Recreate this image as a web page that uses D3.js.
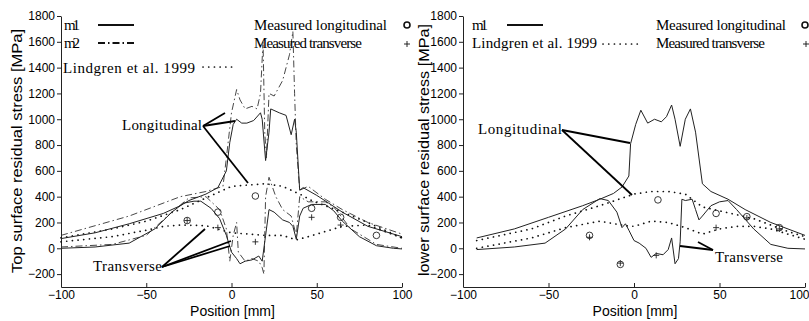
<!DOCTYPE html>
<html>
<head>
<meta charset="utf-8">
<script src="https://cdn.jsdelivr.net/npm/d3@7"></script>
<style>
  body { margin: 0; background: #fff; }
  svg { display: block; }
  .tick text { font-family: "Liberation Sans", Arial, sans-serif; font-size: 12px; fill: #000; }
  .axis path, .axis line { stroke: #222; stroke-width: 1; }
  .alabel { font-family: "Liberation Sans", Arial, sans-serif; font-size: 14px; fill: #000; }
  .serif { font-family: "Liberation Serif", "Times New Roman", serif; font-size: 15px; fill: #000; }
</style>
</head>
<body>
<div id="chart"></div>
<script>
// ---- data ----
const xTicks = [-100, -50, 0, 50, 100];
const yTicks = [-200, 0, 200, 400, 600, 800, 1000, 1200, 1400, 1600, 1800];

// top surface (left panel)
const topM1Long = [[-100,75],[-80,120],[-60,190],[-40,270],[-30,330],[-25,370],[-15,420],[-8,470],[-3,600],[-1,820],[1,960],[3,1000],[6,970],[9,970],[13,990],[17,1050],[18,1000],[20,680],[22,900],[23,1080],[28,1050],[32,1030],[35,880],[37,1000],[38,900],[40,450],[42,470],[50,410],[57,350],[65,280],[80,170],[100,90]];
const topM1Trans = [[-100,0],[-80,10],[-60,40],[-45,150],[-35,280],[-28,350],[-22,365],[-18,365],[-12,310],[-7,230],[-3,100],[0,-30],[3,-80],[5,-120],[8,-100],[12,-90],[16,-60],[18,-100],[20,100],[22,300],[25,280],[30,220],[34,200],[36,170],[38,70],[40,250],[42,310],[47,340],[55,340],[60,290],[65,210],[75,90],[85,20],[95,0],[100,-5]];
const topM2Long = [[-100,100],[-60,250],[-30,400],[-15,440],[-5,480],[-3,700],[0,1050],[3,1230],[5,1150],[8,1080],[12,1100],[15,1080],[17,1200],[18.5,1600],[19.5,900],[20.5,700],[22,1200],[25,1180],[30,1300],[34,1500],[36,1680],[37,1200],[38,800],[40,450],[45,480],[55,380],[65,300],[80,200],[100,110]];
const topM2Trans = [[-100,10],[-70,30],[-50,100],[-35,280],[-25,390],[-15,400],[-7,300],[-3,150],[-1,-100],[1,100],[3,200],[4,-30],[8,-100],[12,-80],[16,-100],[18,-150],[19,-200],[20,400],[22,550],[26,400],[30,300],[35,250],[38,100],[40,400],[45,360],[55,360],[60,320],[70,150],[85,30],[100,0]];
const topLindLong = [[-100,80],[-70,150],[-50,210],[-30,300],[-15,390],[-5,450],[0,480],[10,490],[20,500],[30,480],[40,420],[47,370],[55,330],[65,280],[80,200],[100,80]];
const topLindTrans = [[-100,50],[-70,90],[-50,140],[-40,170],[-30,180],[-15,175],[0,120],[10,110],[20,100],[30,100],[38,65],[45,90],[55,130],[65,170],[80,180],[100,80]];
const topMeasLong = [[-26,215],[-8,280],[14,405],[47,310],[64,240],[85,100]];
const topMeasTrans = [[-26,215],[-8,160],[14,50],[47,240],[64,180]];

// lower surface (right panel)
const lowM1Long = [[-92,80],[-70,150],[-50,240],[-30,330],[-20,380],[-12,425],[-7,475],[-3,560],[-2,810],[1,960],[4,1070],[8,970],[12,1000],[16,980],[19,1020],[22,1110],[24,1000],[27,790],[30,1000],[33,1080],[36,900],[40,500],[45,440],[55,380],[65,300],[80,200],[100,100]];
const lowM1Trans = [[-92,-10],[-70,10],[-52,40],[-40,150],[-30,300],[-20,385],[-15,370],[-10,280],[-7,160],[-5,190],[-3,140],[0,60],[3,40],[7,0],[10,-70],[13,-40],[17,-50],[20,-10],[22,80],[24,-120],[26,-80],[27,50],[28,380],[30,370],[34,380],[36,300],[38,220],[40,250],[45,330],[50,360],[55,370],[60,300],[70,150],[80,30],[90,0],[100,-5]];
const lowLindLong = [[-92,60],[-60,150],[-40,250],[-20,330],[0,420],[10,440],[20,440],[30,420],[40,320],[50,290],[60,260],[70,230],[80,180],[90,130],[100,90]];
const lowLindTrans = [[-92,0],[-60,80],[-40,160],[-20,210],[-5,175],[0,170],[10,210],[20,200],[30,160],[40,110],[50,150],[60,170],[70,170],[80,150],[100,70]];
const lowMeasLong = [[-26,100],[-8,-125],[14,375],[48,270],[66,245],[85,160]];
const lowMeasTrans = [[-26,85],[-8,-115],[13,-55],[48,160],[66,235],[85,150]];

// ---- layout ----
const W = 809, H = 321;
const svg = d3.select('#chart').append('svg').attr('width', W).attr('height', H);

const styles = {
  solid:   { stroke: '#222', width: 1, dash: null },
  dashdot: { stroke: '#333', width: 0.9, dash: '7,3,1.5,3' },
  dotted:  { stroke: '#111', width: 1.7, dash: '0.1,5.6' }
};

function drawPanel(cfg) {
  const x = d3.scaleLinear().domain([-100, 100]).range([cfg.x0, cfg.x1]);
  const y = d3.scaleLinear().domain([-300, 1800]).range([287, 16]);
  const g = svg.append('g');

  g.append('g').attr('class', 'axis')
    .attr('transform', `translate(0,${y(-300)})`)
    .call(d3.axisBottom(x).tickValues(xTicks).tickFormat(d3.format('d'))
      .tickSize(-4).tickPadding(3).tickSizeOuter(0))
    .call(a => a.selectAll('.tick text').attr('dy', '0.71em'))
    .call(a => a.selectAll('.tick text').filter(d => d === 100 && cfg.x1 > 800).attr('text-anchor', 'end').attr('dx', 4));

  g.append('g').attr('class', 'axis')
    .attr('transform', `translate(${x(-100)},0)`)
    .call(d3.axisLeft(y).tickValues(yTicks).tickFormat(d3.format('d'))
      .tickSize(4).tickPadding(2).tickSizeOuter(0));

  const line = d3.line().x(d => x(d[0])).y(d => y(d[1]));
  cfg.series.forEach(s => {
    const st = styles[s.style];
    g.append('path').datum(s.data)
      .attr('d', line)
      .attr('fill', 'none')
      .attr('stroke', st.stroke)
      .attr('stroke-width', st.width)
      .attr('stroke-dasharray', st.dash)
      .attr('stroke-linecap', s.style === 'dotted' ? 'round' : 'butt');
  });

  g.selectAll('.mc').data(cfg.measLong).enter().append('circle')
    .attr('cx', d => x(d[0])).attr('cy', d => y(d[1])).attr('r', 3.3)
    .attr('fill', 'none').attr('stroke', '#222').attr('stroke-width', 0.9);
  g.selectAll('.mp').data(cfg.measTrans).enter().append('path')
    .attr('d', d => `M${x(d[0]) - 3},${y(d[1])}h6M${x(d[0])},${y(d[1]) - 3}v6`)
    .attr('stroke', '#222').attr('stroke-width', 0.9);

  // axis labels
  g.append('text').attr('class', 'alabel')
    .attr('x', (cfg.x0 + cfg.x1) / 2 + 1).attr('y', 316)
    .attr('text-anchor', 'middle').text('Position [mm]');
  g.append('text').attr('class', 'alabel')
    .attr('transform', `translate(${cfg.ylx},${cfg.yly}) rotate(-90)`)
    .attr('text-anchor', 'middle')
    .attr('textLength', cfg.ylw).attr('lengthAdjust', 'spacingAndGlyphs')
    .text(cfg.ylabel);

  // legend
  cfg.legend.forEach(l => {
    g.append('text').attr('class', 'serif').attr('x', l.tx).attr('y', l.ty)
      .attr('textLength', l.tw).attr('lengthAdjust', 'spacing').text(l.label);
    if (l.style) {
      const st = styles[l.style];
      g.append('line').attr('x1', l.sx0).attr('x2', l.sx1).attr('y1', l.sy).attr('y2', l.sy)
        .attr('stroke', '#111').attr('stroke-width', l.style === 'dotted' ? 1.7 : 2)
        .attr('stroke-dasharray', st.dash).attr('stroke-linecap', l.style === 'dotted' ? 'round' : 'butt');
    }
    if (l.marker === 'o') {
      g.append('circle').attr('cx', l.sx0).attr('cy', l.sy).attr('r', 3)
        .attr('fill', 'none').attr('stroke', '#111').attr('stroke-width', 1.6);
    }
    if (l.marker === '+') {
      g.append('path').attr('d', `M${l.sx0 - 3},${l.sy}h6M${l.sx0},${l.sy - 3}v6`)
        .attr('stroke', '#111').attr('stroke-width', 0.9);
    }
  });

  // annotations
  cfg.notes.forEach(n => {
    g.append('text').attr('class', 'serif').attr('x', n.tx).attr('y', n.ty)
      .attr('textLength', n.tw).attr('lengthAdjust', 'spacing').text(n.label);
    n.lines.forEach(p => {
      g.append('line').attr('x1', p[0]).attr('y1', p[1]).attr('x2', p[2]).attr('y2', p[3])
        .attr('stroke', '#000').attr('stroke-width', 1.8);
    });
  });
}

drawPanel({
  x0: 61, x1: 402, ylx: 22, yly: 151, ylw: 244,
  ylabel: 'Top surface residual stress [MPa]',
  series: [
    { data: topLindLong, style: 'dotted' }, { data: topLindTrans, style: 'dotted' },
    { data: topM2Long, style: 'dashdot' }, { data: topM2Trans, style: 'dashdot' },
    { data: topM1Long, style: 'solid' }, { data: topM1Trans, style: 'solid' }
  ],
  measLong: topMeasLong, measTrans: topMeasTrans,
  legend: [
    { label: 'm1', tx: 64, ty: 30, tw: 16, style: 'solid', sx0: 98, sx1: 134, sy: 25 },
    { label: 'm2', tx: 64, ty: 48, tw: 16, style: 'dashdot', sx0: 98, sx1: 134, sy: 43 },
    { label: 'Lindgren et al. 1999', tx: 63, ty: 73, tw: 132, style: 'dotted', sx0: 203, sx1: 234, sy: 67 },
    { label: 'Measured longitudinal', tx: 254, ty: 30, tw: 133, marker: 'o', sx0: 407, sy: 25 },
    { label: 'Measured transverse', tx: 254, ty: 48, tw: 108, marker: '+', sx0: 407, sy: 44 }
  ],
  notes: [
    { label: 'Longitudinal', tx: 122, ty: 130, tw: 80, lines: [[203,126,225,113],[203,126,235,121],[203,126,248,183]] },
    { label: 'Transverse', tx: 93, ty: 271, tw: 69, lines: [[162,267,205,229],[162,267,231,241],[162,267,230,246]] }
  ]
});

drawPanel({
  x0: 463, x1: 805, ylx: 429, yly: 150, ylw: 252,
  ylabel: 'lower surface residual stress [MPa]',
  series: [
    { data: lowLindLong, style: 'dotted' }, { data: lowLindTrans, style: 'dotted' },
    { data: lowM1Long, style: 'solid' }, { data: lowM1Trans, style: 'solid' }
  ],
  measLong: lowMeasLong, measTrans: lowMeasTrans,
  legend: [
    { label: 'm1', tx: 472, ty: 30, tw: 16, style: 'solid', sx0: 507, sx1: 543, sy: 25 },
    { label: 'Lindgren et al. 1999', tx: 472, ty: 48, tw: 125, style: 'dotted', sx0: 603, sx1: 642, sy: 44 },
    { label: 'Measured longitudinal', tx: 656, ty: 30, tw: 130, marker: 'o', sx0: 805, sy: 25 },
    { label: 'Measured transverse', tx: 656, ty: 48, tw: 109, marker: '+', sx0: 806, sy: 44 }
  ],
  notes: [
    { label: 'Longitudinal', tx: 478, ty: 134, tw: 84, lines: [[562,130,630,143],[562,130,632,195]] },
    { label: 'Transverse', tx: 715, ty: 262, tw: 68, lines: [[680,246,713,250],[698,242,713,250]] }
  ]
});
</script>
</body>
</html>
